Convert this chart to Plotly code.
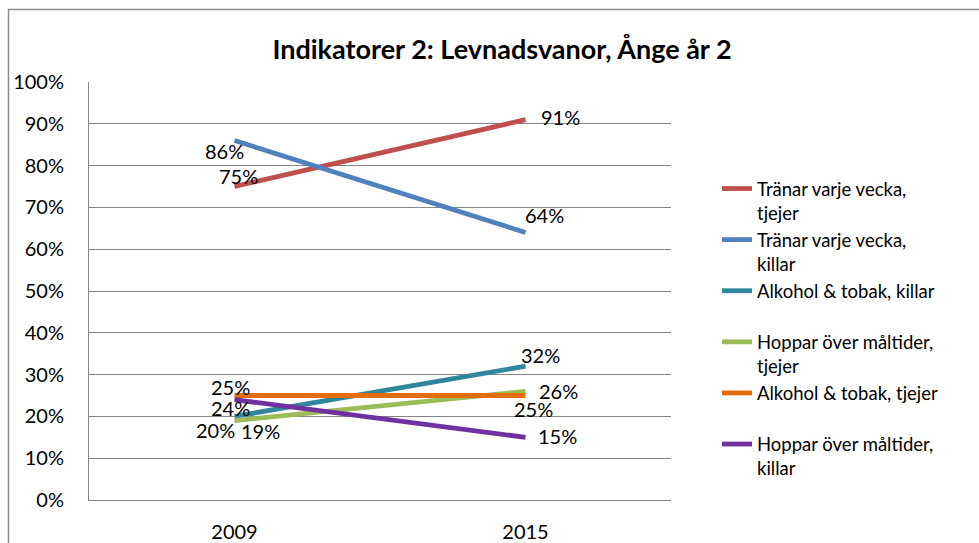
import plotly.graph_objects as go

# ---- data ----
years = ["2009", "2015"]
series_names = [
    "Tränar varje vecka,<br>tjejer",
    "Tränar varje vecka,<br>killar",
    "Alkohol & tobak, killar<br> ",
    "Hoppar över måltider,<br>tjejer",
    "Alkohol & tobak, tjejer<br> ",
    "Hoppar över måltider,<br>killar",
]
tranar_tjejer = [75, 91]
tranar_killar = [86, 64]
alkohol_killar = [20, 32]
hoppar_tjejer = [19, 26]
alkohol_tjejer = [25, 25]
hoppar_killar = [24, 15]
y_ticks = list(range(0, 101, 10))
title_text = "Indikatorer 2: Levnadsvanor, Ånge år 2"

# ---- style ----
colors = ["#C0504D", "#4F81BD", "#31859C", "#9BBB59", "#E46C0A", "#7030A0"]
# label pixel offsets (dx, dy up) for each point of each series
label_offsets = [
    [(4, 11), (35, 3)],
    [(-10, -10), (19, 17)],
    [(-19, -14), (15, 11)],
    [(26, -10), (33, 0)],
    [(-4, 9), (8, -13)],
    [(-4, -8), (32, 1)],
]
FONT = "Lato, Open Sans, sans-serif"
GRID = "#868686"

all_values = [tranar_tjejer, tranar_killar, alkohol_killar,
              hoppar_tjejer, alkohol_tjejer, hoppar_killar]

fig = go.Figure()
annotations = []
for i, (name, vals) in enumerate(zip(series_names, all_values)):
    fig.add_trace(go.Scatter(
        x=years, y=vals, mode="lines", name=name,
        line=dict(color=colors[i], width=4.8),
        hoverinfo="skip",
    ))
    for j, v in enumerate(vals):
        dx, dy = label_offsets[i][j]
        annotations.append(dict(
            x=j, y=v, xref="x", yref="y", text=f"{v}%",
            showarrow=False, xshift=dx, yshift=dy,
            font=dict(family=FONT, size=20, color="#000000"),
        ))

W, H = 979, 543
L, R, T, B = 89, 308, 82, 43
pw, ph = W - L - R, H - T - B

def px_x(px):
    return (px - L) / pw

def px_y(py):
    return (H - B - py) / ph

fig.update_layout(
    width=W, height=H,
    margin=dict(l=L, r=R, t=T, b=B, autoexpand=False),
    paper_bgcolor="white", plot_bgcolor="white",
    font=dict(family=FONT, size=20, color="#000000"),
    title=dict(text=title_text, x=502 / W, xref="container", xanchor="center",
               y=1 - 50 / H, yref="container", yanchor="middle",
               font=dict(family=FONT, size=27, color="#000000", weight="bold")),
    showlegend=True,
    legend=dict(x=px_x(717), y=px_y(170), xanchor="left", yanchor="top",
                valign="top", font=dict(family=FONT, size=18.5, color="#000000"),
                bgcolor="rgba(0,0,0,0)", borderwidth=0),
    xaxis=dict(type="category", range=[-0.5, 1.5], showgrid=False, automargin=False,
               showline=True, linecolor=GRID, linewidth=1, ticks="",
               ticklabelstandoff=14, tickfont=dict(size=20), zeroline=False),
    yaxis=dict(range=[0, 100], tickvals=y_ticks, ticktext=[f"{t}%" for t in y_ticks],
               showgrid=True, gridcolor=GRID, gridwidth=1, automargin=False,
               showline=True, linecolor=GRID, linewidth=1, ticks="",
               ticklabelstandoff=20, tickfont=dict(size=20), zeroline=False),
    annotations=annotations,
    shapes=[dict(type="rect", xref="paper", yref="paper",
                 x0=px_x(8.5), x1=px_x(1000), y0=px_y(570), y1=px_y(9.5),
                 line=dict(color="#8c8c8c", width=1.5), fillcolor="rgba(0,0,0,0)",
                 layer="below")],
)

fig.write_html("out.html", config={"displayModeBar": False},
               post_script="document.body.style.margin='0px';")
